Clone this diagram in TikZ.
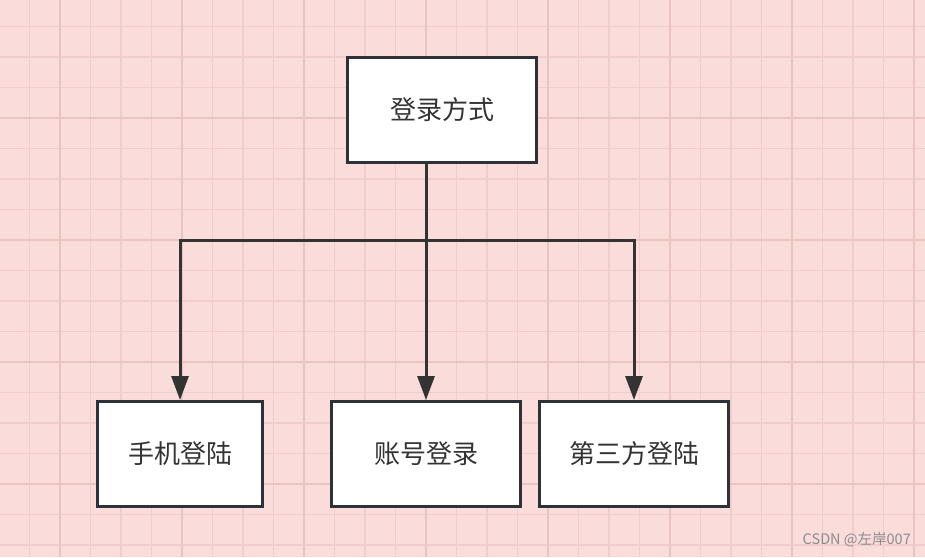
\documentclass[tikz,border=0pt]{standalone}
\usepackage{fontspec}
\setmainfont{Noto Sans CJK SC}
\usetikzlibrary{positioning,arrows.meta}
\definecolor{paper}{RGB}{250,220,218}
\definecolor{gridminor}{RGB}{240,205,204}
\definecolor{gridmajor}{RGB}{233,196,195}
\definecolor{ink}{RGB}{51,51,51}
\definecolor{boxline}{RGB}{45,50,56}
\tikzset{box/.style={draw=boxline,line width=3pt,fill=white,text=ink,
                     minimum height=105pt,font=\fontsize{26}{30}\selectfont},
         link/.style={draw=ink,line width=3pt},
         arrow/.style={link,-{Triangle[width=17pt,length=24pt]}}}

\begin{document}
\begin{tikzpicture}[x=1pt,y=-1pt]
                   \useasboundingbox (0,0) rectangle (925,557);
                   \fill[paper] (0,0) rectangle (925,557);
                   % grid
                   \foreach \k in {0,...,31}
                     \draw[gridminor,line width=1.8pt] ({-1+30.5*\k},0) -- ({-1+30.5*\k},557);
                   \foreach \k in {0,...,19}
                     \draw[gridminor,line width=1.8pt] (0,{-4+30.5*\k}) -- (925,{-4+30.5*\k});
                   \foreach \k in {0,...,7}
                     \draw[gridmajor,line width=2pt] ({60+122*\k},0) -- ({60+122*\k},557);
                   \foreach \k in {0,...,3}
                     \draw[gridmajor,line width=2pt] (0,{118+122*\k}) -- (925,{118+122*\k});
                   % boxes
                   \node[box,minimum width=189pt] (login)   at (442,110) {登录方式};
                   \node[box,minimum width=165pt] (phone)   at (180,454) {手机登陆};
                   \node[box,minimum width=189pt] (account) at (426,454) {账号登录};
                   \node[box,minimum width=189pt] (third)   at (634,454) {第三方登陆};
                   \coordinate (bus) at (426,240);
                   % connectors
                   \path[link] (login.south -| bus) -- (bus);
                   \path[link] (bus -| phone) -- (bus -| third);
                   \path[arrow] (bus) -| (phone);
                   \path[arrow] (bus) -- (account);
                   \path[arrow] (bus) -| (third);
                   % watermark
                   \node[anchor=east,text=black!45,font=\fontsize{14.5}{16}\selectfont,inner sep=0pt] (mark) at (911,540) {CSDN @左岸007};
\end{tikzpicture}
\end{document}
